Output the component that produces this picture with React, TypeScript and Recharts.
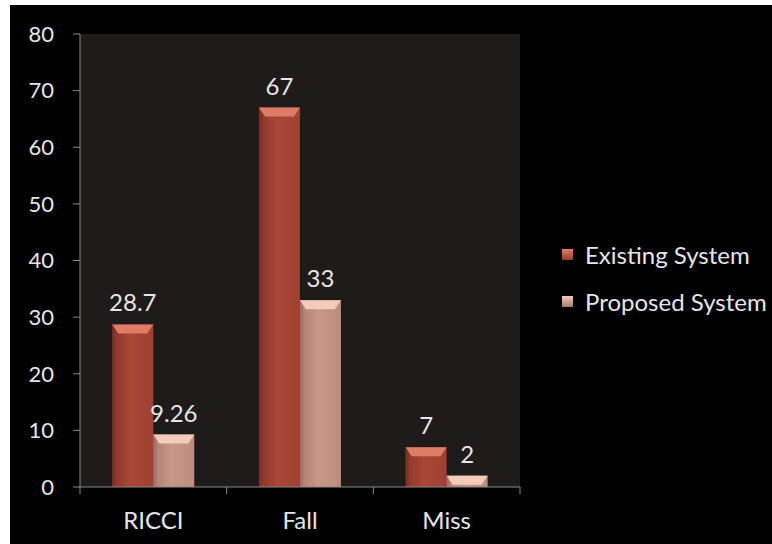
import { BarChart, Bar, XAxis, YAxis, CartesianGrid, LabelList } from 'recharts';

const categories = ['RICCI', 'Fall', 'Miss'];
const existingSystem = [28.7, 67, 7];
const proposedSystem = [9.26, 33, 2];
const yTicks = [0, 10, 20, 30, 40, 50, 60, 70, 80];

const data = categories.map((name, i) => ({
  name,
  existing: existingSystem[i],
  proposed: proposedSystem[i],
}));

const FONT = 'Lato, "Open Sans", sans-serif';
const TEXT = '#e6e6e6';
const AXIS = '#8a8a8a';
const X_TICK_MARGIN = 25;

const SERIES = [
  { key: 'existing', name: 'Existing System', grad: 'gradRed', top: '#de7c66', side: '#7a2e22' },
  { key: 'proposed', name: 'Proposed System', grad: 'gradPink', top: '#f3cbbb', side: '#9a6a5e' },
];

const BevelBar = (props: any) => {
  const { x, y, width, height, grad, top, side } = props;
  if (!height || height <= 0) return null;
  const b = Math.min(9, height);
  const s = Math.min(6, width / 4);
  return (
    <g>
      <rect x={x} y={y} width={width} height={height} fill={`url(#${grad})`} />
      <rect x={x} y={y} width={3} height={height} fill={side} opacity={0.6} />
      <polygon
        points={`${x},${y} ${x + width},${y} ${x + width - s},${y + b} ${x + s},${y + b}`}
        fill={top}
      />
    </g>
  );
};

// category label in the band centre, tick marks on the band edges
const CategoryTick = (props: any) => {
  const { x, y, payload, index, visibleTicksCount } = props;
  const off = payload.offset || 0;
  const axisY = y - X_TICK_MARGIN;
  const last = index === visibleTicksCount - 1;
  return (
    <g>
      <line x1={x - off} x2={x - off} y1={axisY} y2={axisY + 7} stroke={AXIS} />
      {last && <line x1={x + off} x2={x + off} y1={axisY} y2={axisY + 7} stroke={AXIS} />}
      <text x={x} y={y} dy="0.71em" textAnchor="middle" fill={TEXT} fontSize={24} fontFamily={FONT}>
        {payload.value}
      </text>
    </g>
  );
};

const LegendBox = () => (
  <div
    style={{
      position: 'absolute',
      left: 552,
      top: 226,
      fontFamily: FONT,
      fontSize: 24,
      color: TEXT,
      whiteSpace: 'nowrap',
    }}
  >
    {SERIES.map((s, i) => (
      <div key={s.key} style={{ display: 'flex', alignItems: 'center', height: 47 }}>
        <span
          style={{
            display: 'inline-block',
            width: 11,
            height: 11,
            marginRight: 12,
            background: i === 0
              ? 'linear-gradient(#e0806a, #9a3a2a)'
              : 'linear-gradient(#f3cbbb, #a87868)',
          }}
        />
        {s.name}
      </div>
    ))}
  </div>
);

export default function App() {
  return (
    <div
      style={{
        position: 'fixed',
        left: 10,
        top: 5,
        width: 762,
        height: 539,
        background: '#000',
        overflow: 'hidden',
      }}
    >
      <BarChart
        width={762}
        height={539}
        data={data}
        margin={{ top: 29, right: 252, left: 0, bottom: 27 }}
        barCategoryGap="22%"
        barGap={0}
      >
        <defs>
          <linearGradient id="gradRed" x1="0" y1="0" x2="1" y2="0">
            <stop offset="0%" stopColor="#89352a" />
            <stop offset="45%" stopColor="#ab4736" />
            <stop offset="100%" stopColor="#9f4032" />
          </linearGradient>
          <linearGradient id="gradPink" x1="0" y1="0" x2="1" y2="0">
            <stop offset="0%" stopColor="#ad7d70" />
            <stop offset="45%" stopColor="#c99788" />
            <stop offset="100%" stopColor="#be8c7e" />
          </linearGradient>
        </defs>
        <CartesianGrid horizontal={false} vertical={false} fill="#1f1b1a" stroke="none" />
        <XAxis
          dataKey="name"
          tick={<CategoryTick />}
          tickLine={false}
          tickSize={0}
          tickMargin={X_TICK_MARGIN}
          axisLine={{ stroke: AXIS }}
          height={30}
        />
        <YAxis
          domain={[0, 80]}
          ticks={yTicks}
          width={70}
          tick={{ fill: TEXT, fontSize: 22, fontFamily: FONT }}
          tickLine={{ stroke: AXIS }}
          axisLine={{ stroke: AXIS }}
          tickSize={7}
          tickMargin={19}
        />
        {SERIES.map((s) => (
          <Bar
            key={s.key}
            dataKey={s.key}
            name={s.name}
            isAnimationActive={false}
            shape={(p: any) => <BevelBar {...p} grad={s.grad} top={s.top} side={s.side} />}
          >
            <LabelList
              dataKey={s.key}
              position="top"
              offset={13}
              fill={TEXT}
              fontSize={24}
              fontFamily={FONT}
            />
          </Bar>
        ))}
      </BarChart>
      <LegendBox />
    </div>
  );
}
